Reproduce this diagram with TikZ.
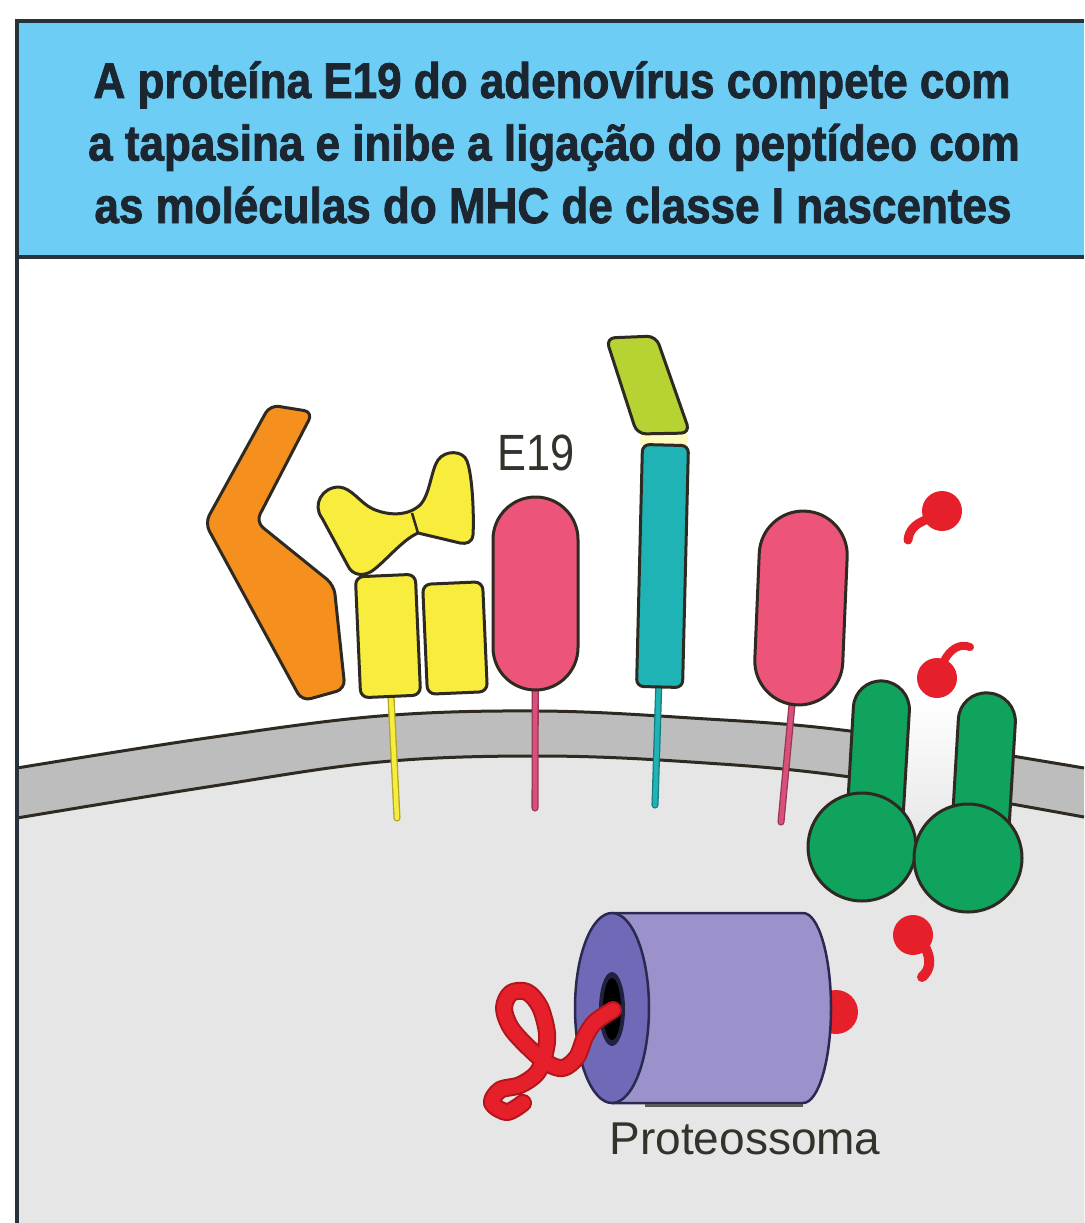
\documentclass[tikz,border=0pt]{standalone}
\usepackage{fontspec}
\setmainfont{Liberation Sans}
\newfontfamily\headfont{Liberation Sans}[BoldFeatures={FakeBold=1.8}]
\usetikzlibrary{shapes.misc}

\definecolor{skyhead}{HTML}{6DCDF4}
\definecolor{frameline}{HTML}{27323B}
\definecolor{titleink}{HTML}{1C2631}
\definecolor{cyto}{HTML}{E6E6E6}
\definecolor{membrane}{HTML}{BDBDBD}
\definecolor{outline}{HTML}{2E2A22}
\definecolor{orangep}{HTML}{F5901E}
\definecolor{yellowp}{HTML}{F8EC3C}
\definecolor{pinkp}{HTML}{ED5479}
\definecolor{pinkstem}{HTML}{D9507A}
\definecolor{tealp}{HTML}{20B3B6}
\definecolor{limep}{HTML}{B6D233}
\definecolor{greenp}{HTML}{0FA35D}
\definecolor{pep}{HTML}{E5202A}
\definecolor{pepdark}{HTML}{B3141C}
\definecolor{protbody}{HTML}{9B91CB}
\definecolor{protface}{HTML}{6F69B7}
\definecolor{protedge}{HTML}{2A2950}
\definecolor{labelink}{HTML}{33322B}

\pgfdeclarelayer{back}
\pgfdeclarelayer{stems}
\pgfsetlayers{back,stems,main}

\tikzset{
  part/.style={draw=outline, line width=3pt, line join=round},
  capsule/.style={part, rounded rectangle, inner sep=0pt},
  block/.style={part, rectangle, rounded corners=8pt, inner sep=0pt},
  stem/.style={draw=#1!70!black, line width=1.3pt, double=#1,
    double distance=4.5pt, line cap=round},
  titleline/.style={anchor=base, text=titleink, xscale=0.88,
    font=\headfont\bfseries\fontsize{50}{60}\selectfont},
  tag/.style={anchor=base, text=labelink, font=\fontsize{#1}{#1}\selectfont},
  peptail/.style={draw=pep, line cap=round}
}

\begin{document}
\begin{tikzpicture}[x=1pt,y=-1pt]
\useasboundingbox (0,0) rectangle (1084,1223);

\begin{pgfonlayer}{back}
  % page, cytoplasm and membrane
  \fill[white] (0,0) rectangle (1084,1223);
  \fill[membrane] plot[smooth,tension=0.6] coordinates
    {(17,768) (207,738) (380,716) (539,711) (691,718) (850,731) (1084,768)}
    -- (1084,1223) -- (17,1223) -- cycle;
  \fill[cyto] plot[smooth,tension=0.6] coordinates
    {(17,818) (207,787) (380,762) (539,756) (691,762) (850,777) (1084,817)}
    -- (1084,1223) -- (17,1223) -- cycle;
  \draw[outline, line width=3pt] plot[smooth,tension=0.6] coordinates
    {(17,768) (207,738) (380,716) (539,711) (691,718) (850,731) (1084,768)};
  \draw[outline, line width=3pt] plot[smooth,tension=0.6] coordinates
    {(17,818) (207,787) (380,762) (539,756) (691,762) (850,777) (1084,817)};
  % channel opening between the two transporter halves
  \shade[top color=white, bottom color=cyto]
    (904,700) -- (964,700) -- (958,840) -- (898,840) -- cycle;

  % header band and frame
  \fill[skyhead] (17,21) rectangle (1084,257);
  \draw[frameline, line width=4pt] (15,21) -- (1084,21);
  \draw[frameline, line width=4.5pt] (15,257) -- (1084,257);
  \draw[frameline, line width=4pt] (17,19) -- (17,1223);
\end{pgfonlayer}

% title
\node[titleline] (title1) at (552,98) {A proteína E19 do adenovírus compete com};
\node[titleline] (title2) at (554,160.5) {a tapasina e inibe a ligação do peptídeo com};
\node[titleline] (title3) at (553,223) {as moléculas do MHC de classe I nascentes};

% calreticulin-like chevron
\draw[part, fill=orangep, rounded corners=9pt]
  (270,405) -- (313,412) -- (256,522) -- (334,585) -- (345,689) -- (302,701)
  -- (205,523) -- cycle;

% tapasin: upper domain
\draw[part, fill=yellowp]
  (322,518)
  .. controls (312,505) and (322,487) .. (339,487)
  .. controls (352,488) and (360,503) .. (373,509)
  .. controls (389,516) and (408,516) .. (420,505)
  .. controls (430,495) and (431,470) .. (438,460)
  .. controls (445,450) and (463,450) .. (467,461)
  .. controls (473,477) and (474,520) .. (473,535)
  .. controls (472,543) and (466,544) .. (460,543)
  -- (418,533)
  .. controls (402,540) and (385,562) .. (372,571)
  .. controls (363,577) and (352,575) .. (348,566)
  -- cycle;
\draw[outline, line width=2.5pt] (412,513) -- (418,533);

% tapasin: lower domains
\node[block, fill=yellowp, minimum width=60pt, minimum height=121pt, rotate=2.5]
  (tapl) at (388,636) {};
\node[block, fill=yellowp, minimum width=60pt, minimum height=110pt, rotate=2.5]
  (tapr) at (455,638) {};

% E19
\node[capsule, fill=pinkp, minimum width=193pt, minimum height=85pt, rotate=90]
  (e19) at (535.5,593.5) {};
\node[tag=51, xscale=0.85] (e19label) at (536,470) {E19};

% MHC heavy chain with lime domain on top
\fill[yellow!35, opacity=0.7, rounded corners=4pt] (640,432) rectangle (688,446);
\draw[part, fill=limep, rounded corners=9pt]
  (606,338) -- (656,336) -- (690,433) -- (637,434) -- cycle;
\node[block, rounded corners=7pt, fill=tealp, minimum width=242pt,
  minimum height=46pt, rotate=88.6] (mhc) at (662.5,566) {};

% second E19
\node[capsule, fill=pinkp, minimum width=194pt, minimum height=88pt, rotate=87.6]
  (e19b) at (801,608) {};

% membrane anchors
\coordinate (tapend) at (397,818);
\coordinate (e19end) at (535,808);
\coordinate (mhcend) at (655,805);
\coordinate (e19bend) at (781,822);
\begin{pgfonlayer}{stems}
  \draw[stem=yellowp] (tapl.center) -- (tapend);
  \draw[stem=pinkstem] (e19.center) -- (e19end);
  \draw[stem=tealp] (mhc.center) -- (mhcend);
  \draw[stem=pinkstem] (e19b.center) -- (e19bend);
\end{pgfonlayer}

% TAP transporter halves
\draw[part, fill=greenp] (846,835) [rounded corners=28pt] -- (855,679) -- (911,683)
  [sharp corners] -- (902,835) -- cycle;
\draw[part, fill=greenp] (862,847) circle[radius=54pt];
\draw[part, fill=greenp] (951,845) [rounded corners=28pt] -- (960,691) -- (1017,695)
  [sharp corners] -- (1008,845) -- cycle;
\draw[part, fill=greenp] (968,858) circle[radius=54pt];

% peptides
\fill[pep] (942,511) circle[radius=20pt];
\draw[peptail, line width=9pt] (928,519) .. controls (914,524) and (909,531) .. (908,540);
\fill[pep] (937,678) circle[radius=20pt];
\draw[peptail, line width=8pt] (944,661) .. controls (950,649) and (960,643) .. (970,647);
\fill[pep] (913,935) circle[radius=20pt];
\draw[peptail, line width=10pt] (925,947) .. controls (932,960) and (930,970) .. (922,977);

% proteasome
\fill[pep] (836,1012) circle[radius=22pt];
\draw[draw=protedge, line width=2.5pt, fill=protbody, line join=round]
  (612,913) -- (803,913) arc[start angle=90, end angle=-90, x radius=28pt, y radius=95pt]
  -- (612,1103) -- cycle;
\draw[gray!70!black, line width=3pt] (645,1105) -- (803,1105);
\draw[draw=protedge, line width=2.5pt, fill=protface]
  (612,1008) ellipse[x radius=37pt, y radius=95pt];
\fill[protedge!80!black] (612,1009) ellipse[x radius=13pt, y radius=37pt];
\fill[black] (612,1009) ellipse[x radius=9pt, y radius=31pt];

% unfolded protein entering the proteasome
\def\worm{(523,1103) (507,1112) (492,1103) (500,1090) (520,1085) (537,1073)
  (545,1053) (547,1033) (540,1007) (527,992) (511,993) (504,1008) (511,1028)
  (529,1048) (547,1063) (563,1068) (577,1057) (585,1037) (595,1022) (613,1010)}
\draw[pepdark, line width=18pt, line cap=round, line join=round]
  plot[smooth, tension=0.55] coordinates {\worm};
\draw[pep, line width=14pt, line cap=round, line join=round]
  plot[smooth, tension=0.55] coordinates {\worm};

\node[tag=46] (protlabel) at (745,1154) {Proteossoma};
\end{tikzpicture}
\end{document}
